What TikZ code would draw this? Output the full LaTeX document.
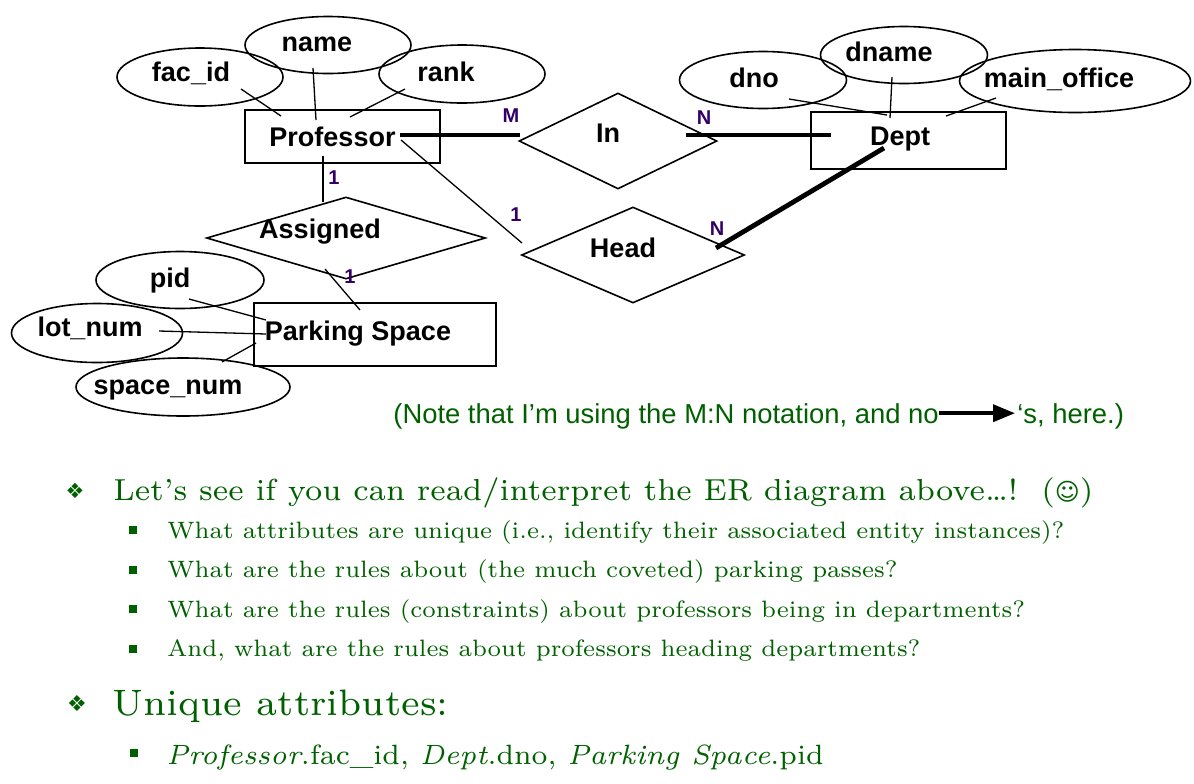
\documentclass[tikz,border=0pt]{standalone}
\usepackage{fontspec}
\usepackage{tikz}
\usetikzlibrary{shapes.geometric,arrows.meta,calc}
\newfontfamily\arialfont{Liberation Sans}
\newfontfamily\symbfont{DejaVu Sans}
\newfontfamily\slidefont{lmroman7-regular.otf}[ItalicFont=lmroman7-italic.otf]
\definecolor{slidegreen}{RGB}{0,96,0}
\definecolor{cardpurple}{RGB}{51,0,102}

\begin{document}
\begin{tikzpicture}[x=0.5pt,y=-0.5pt,
		lbl/.style={font=\arialfont\bfseries\fontsize{13.5}{15}\selectfont,inner sep=0pt,text height=9.7pt,text depth=0pt},
		entity/.style={draw,line width=1pt,inner sep=0pt},
		attr/.style={draw,ellipse,line width=0.8pt,inner sep=0pt},
		rel/.style={draw,diamond,line width=0.8pt,inner sep=0pt},
		thinline/.style={line width=0.65pt},
		heavy/.style={line width=2.4pt},
		card/.style={font=\arialfont\bfseries\fontsize{10}{12}\selectfont,text=cardpurple,inner sep=0pt},
		note/.style={font=\arialfont\fontsize{13.7}{16}\selectfont,text=slidegreen,inner sep=0pt,text height=9.8pt,text depth=0pt,anchor=base west},
		slide/.style={text=slidegreen,inner sep=0pt,anchor=base west}]
	\useasboundingbox (0,0) rectangle (1194,783);
	\node[entity,minimum width=97.5pt,minimum height=26.5pt,label={[lbl,shift={(-10,0)}]center:Professor}] (prof) at (342.5,136.5) {};
	\node[entity,minimum width=97.5pt,minimum height=28.5pt,label={[lbl,shift={(-8,-4)}]center:Dept}] (dept) at (908,140) {};
	\node[entity,minimum width=121pt,minimum height=31.5pt,label={[lbl,shift={(-17,-4)}]center:Parking Space}] (park) at (375,334.5) {};
	\foreach \n/\x/\y/\w/\h/\dx/\dy/\t in {facid/200/77/83/29/-9/-5/fac\_id,
			name/328/45/83/28.5/-11/-3/name,
			rank/462/74/83/29/-16/-2/rank,
			dno/763/80/83.5/28.5/-9/-2/dno,
			dname/904/55/83.5/28.5/-15/-3/dname,
			mainoff/1075/81/115.5/31.5/-16/-3/main\_office,
			pid/180/280/84/28.5/-10/-2/pid,
			lotnum/97/333/85.5/29.5/-7/-6/lot\_num,
			spacenum/183/387/107/29/-15/-2/space\_num}{
		\node[attr,minimum width=\w pt,minimum height=\h pt,label={[lbl,shift={(\dx,\dy)}]center:\t}] (\n) at (\x,\y) {};}
	\node[rel,minimum width=99pt,minimum height=48pt,label={[lbl,shift={(-10,-8)}]center:In}] (in) at (618,141) {};
	\node[rel,minimum width=111.5pt,minimum height=48pt,label={[lbl,shift={(-10,-7)}]center:Head}] (head) at (633,255) {};
	\node[rel,minimum width=139.5pt,minimum height=41pt,label={[lbl,shift={(-26,-9)}]center:Assigned}] (assigned) at (346,238) {};
	\draw[thinline] ($(facid)+(41,12)$) -- ($(prof)+(-61.5,-20.5)$);
	\draw[thinline] ($(name)+(-15,23)$) -- ($(prof)+(-26.5,-16.5)$);
	\draw[thinline] ($(rank)+(-57,15)$) -- ($(prof)+(7.5,-19.5)$);
	\draw[thinline] ($(dno)+(26,19)$) -- ($(dept)+(-21,-25)$);
	\draw[thinline] ($(dname)+(-12,22)$) -- ($(dept)+(-18,-22)$);
	\draw[thinline] ($(mainoff)+(-79,17)$) -- ($(dept)+(38,-24)$);
	\draw[thinline] ($(pid)+(9,19)$) -- ($(park)+(-109,-14.5)$);
	\draw[thinline] ($(lotnum)+(62,-2)$) -- ($(park)+(-109,-0.5)$);
	\draw[thinline] ($(spacenum)+(39,-25)$) -- ($(park)+(-119,8.5)$);
	\draw[heavy] ($(prof)+(57.5,-1.5)$) -- ($(in)+(-98,-6)$);
	\draw[heavy] ($(in)+(68,-6)$) -- ($(dept)+(-77,-5)$);
	\draw[thinline] ($(prof)+(-19.5,19.5)$) -- ($(assigned)+(-23,-36)$);
	\draw[thinline] ($(assigned)+(-21,31)$) -- ($(park)+(-15,-24.5)$);
	\draw[thinline] ($(prof)+(58.5,3.5)$) -- ($(head)+(-111,-12)$);
	\draw[heavy] ($(dept)+(-24,8)$) -- ($(head)+(83,-7)$);
	\node[card] (cardM) at (511,116) {M};
	\node[card] (cardN1) at (704,118) {N};
	\node[card] (card1a) at (334,178) {1};
	\node[card] (card1b) at (516,215) {1};
	\node[card] (cardN2) at (717,229) {N};
	\node[card] (card1c) at (350,277) {1};
	\node[note] (note1) at (393,423) {(Note that I’m using the M:N notation, and no};
	\node[note] (note2) at (1017,423) {‘s, here.)};
	\draw[line width=1.8pt,-{Triangle[length=11pt,width=8.5pt]},shorten >=1pt] (note1.east) -- (note2.west);
	\node[slide,anchor=center,font=\symbfont\fontsize{10.5}{12}\selectfont] (dia1) at (75,491) {❖};
	\node[slide,font=\slidefont\fontsize{15.2}{18}\selectfont] (line1) at (113,500) {Let’s see if you can read/interpret the ER diagram above…!\ \ ({\symbfont\fontsize{12}{14}\selectfont ☺})};
	\foreach \y/\t in {538/{What attributes are unique (i.e., identify their associated entity instances)?},
			577.5/{What are the rules about (the much coveted) parking passes?},
			617/{What are the rules (constraints) about professors being in departments?},
			656.5/{And, what are the rules about professors heading departments?}}{
		\node[fill=slidegreen,minimum size=4pt,inner sep=0pt] (sq\y) at (133,\y-8) {};
		\node[slide,font=\slidefont\fontsize{11.85}{14}\selectfont] (q\y) at (167,\y) {\t};}
	\node[slide,anchor=center,font=\symbfont\fontsize{11}{13}\selectfont] (dia2) at (77,704) {❖};
	\node[slide,font=\slidefont\fontsize{18.4}{22}\selectfont] (uniq) at (112,715) {Unique attributes:};
	\node[fill=slidegreen,minimum size=4pt,inner sep=0pt] (sqlast) at (134,753) {};
	\node[slide,font=\slidefont\fontsize{13.95}{17}\selectfont] (answer) at (166,764) {\textit{Professor}.fac\_id, \textit{Dept}.dno, \textit{Parking Space}.pid};
\end{tikzpicture}
\end{document}
